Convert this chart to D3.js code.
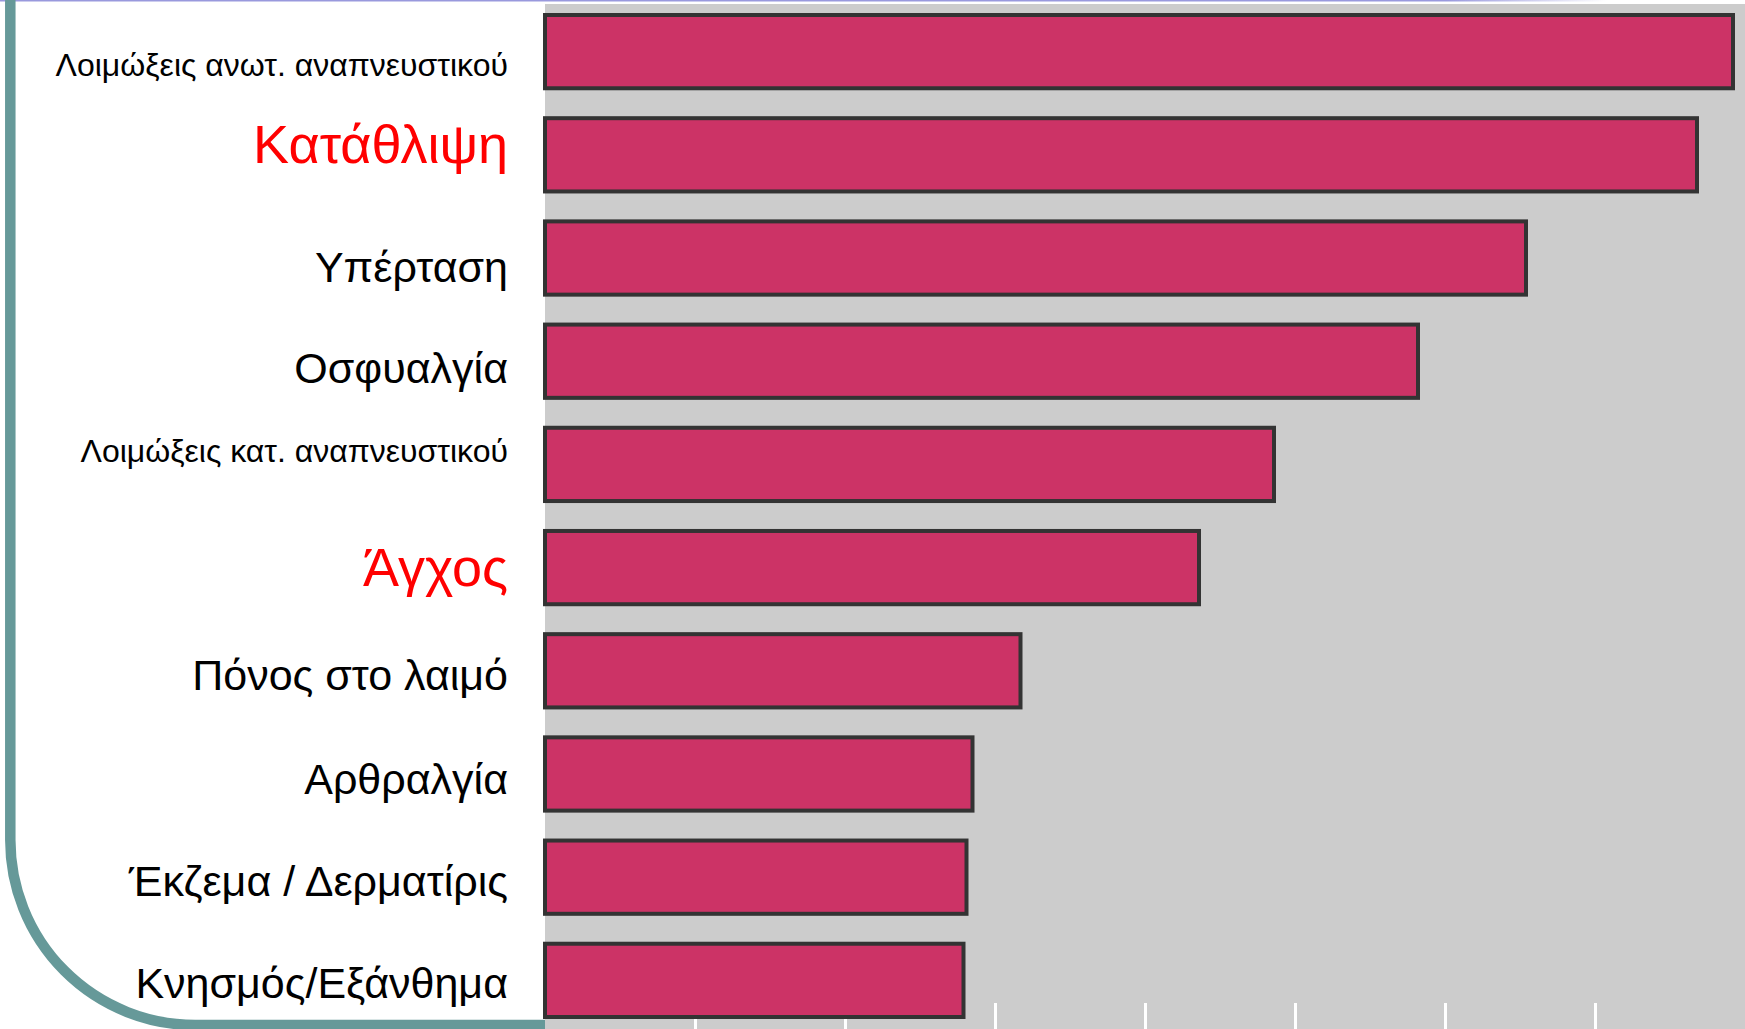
<html><head><title>Bar chart</title>
<style>
    body {
        margin: 0;
        padding: 0;
        background-color: #ffffff;
        overflow: hidden;
    }
    svg {
        display: block;
    }
    .label {
        font-family: 'Liberation Sans', Arial, sans-serif;
    }
</style>
<script src="https://cdnjs.cloudflare.com/ajax/libs/d3/7.8.5/d3.min.js"></script>
</head>
<body>
<div id="chart"></div>

<script>
// Chart data
const categories = [
    "Λοιμώξεις ανωτ. αναπνευστικού",
    "Κατάθλιψη",
    "Υπέρταση",
    "Οσφυαλγία",
    "Λοιμώξεις κατ. αναπνευστικού",
    "Άγχος",
    "Πόνος στο λαιμό",
    "Αρθραλγία",
    "Έκζεμα / Δερματίρις",
    "Κνησμός/Εξάνθημα"
];
const values = [7.92, 7.68, 6.54, 5.82, 4.86, 4.36, 3.17, 2.85, 2.81, 2.79];
const highlighted = ["Κατάθλιψη", "Άγχος"];
const tickValues = [1, 2, 3, 4, 5, 6, 7];

// label styling (font size, vertical nudge of the text against its bar)
const labelSize = [32, 54, 43, 43, 32, 54, 43, 43, 43, 43];
const labelNudge = [13, -11, 9, 6, -14, -1, 4, 5, 3, 2];

const width = 1745;
const height = 1029;

const svg = d3.select("#chart")
    .append("svg")
    .attr("width", width)
    .attr("height", height);

const x = d3.scaleLinear()
    .domain([0, 8])
    .range([545, 1745]);

const y = d3.scaleBand()
    .domain(categories)
    .range([15, 1017])
    .paddingInner(0.29)
    .paddingOuter(0);

// thin line along the top edge, fading out to the right
const defs = svg.append("defs");
const fade = defs.append("linearGradient")
    .attr("id", "top-fade")
    .attr("x1", "0%").attr("x2", "100%");
fade.append("stop").attr("offset", "0%").attr("stop-color", "#9999dd");
fade.append("stop").attr("offset", "90%").attr("stop-color", "#9999dd");
fade.append("stop").attr("offset", "100%").attr("stop-color", "#ffffff");

svg.append("rect")
    .attr("x", 0)
    .attr("y", 0)
    .attr("width", 1607)
    .attr("height", 1.5)
    .attr("fill", "url(#top-fade)");

// plot background
svg.append("rect")
    .attr("x", x(0))
    .attr("y", 4)
    .attr("width", x(8) - x(0))
    .attr("height", height - 4)
    .attr("fill", "#cccccc");

// rounded frame on the left
const r = 185;
svg.append("path")
    .attr("d", `M10.3,-5 L10.3,${1025 - r} A${r},${r} 0 0 0 ${10.3 + r},1025 L${x(0)},1025`)
    .attr("fill", "none")
    .attr("stroke", "#669999")
    .attr("stroke-width", 10.5);

// white tick marks at the bottom
const xAxis = d3.axisBottom(x)
    .tickValues(tickValues)
    .tickSize(30)
    .tickFormat("");

const axisG = svg.append("g")
    .attr("transform", "translate(0,1003)")
    .call(xAxis);
axisG.select(".domain").remove();
axisG.selectAll(".tick line")
    .attr("stroke", "#ffffff")
    .attr("stroke-width", 3);

// bars
svg.append("g")
    .selectAll("rect")
    .data(categories)
    .enter().append("rect")
    .attr("x", x(0))
    .attr("y", d => y(d))
    .attr("width", (d, i) => x(values[i]) - x(0))
    .attr("height", y.bandwidth())
    .attr("fill", "#cc3366")
    .attr("stroke", "#333333")
    .attr("stroke-width", 4);

// category labels
svg.append("g")
    .selectAll("text")
    .data(categories)
    .enter().append("text")
    .attr("class", "label")
    .attr("x", 508)
    .attr("y", (d, i) => y(d) + y.bandwidth() / 2 + labelNudge[i] + 0.358 * labelSize[i])
    .attr("text-anchor", "end")
    .attr("font-size", (d, i) => labelSize[i] + "px")
    .attr("fill", d => highlighted.includes(d) ? "#ff0000" : "#000000")
    .text(d => d);
</script>
</body>
</html>
